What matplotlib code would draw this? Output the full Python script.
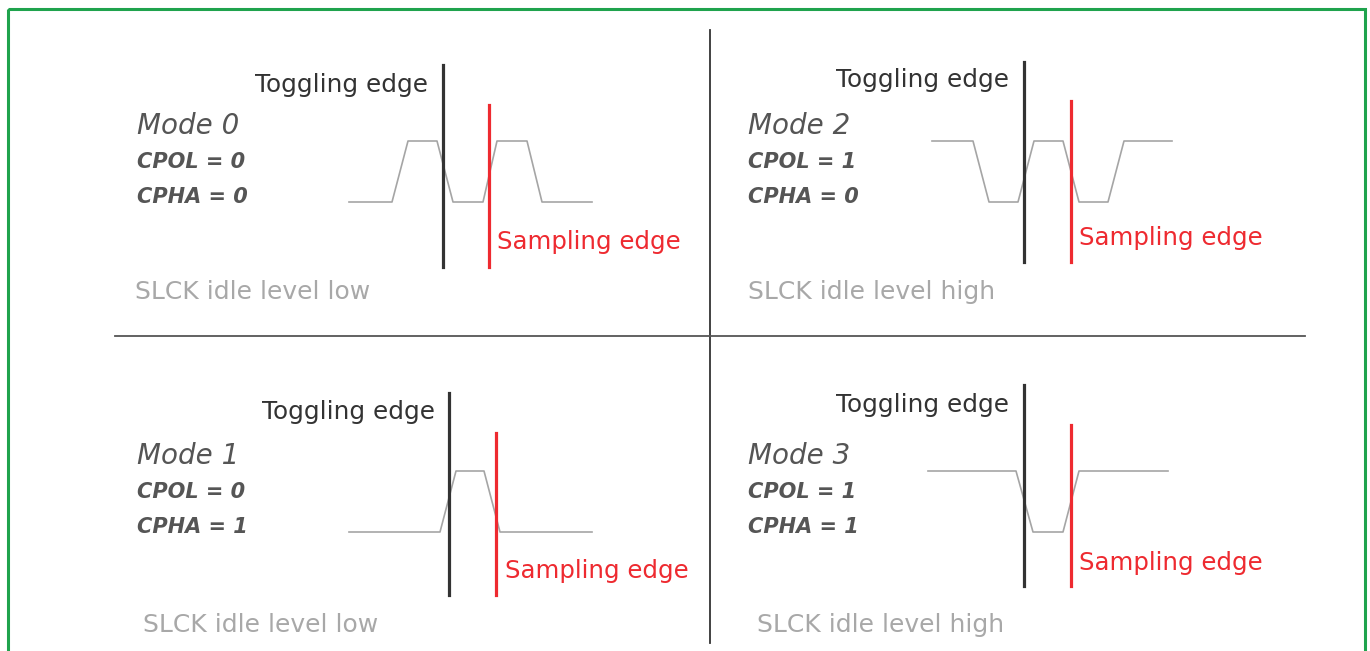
import matplotlib.pyplot as plt
from matplotlib.patches import Rectangle

# SPI clock modes: waveform breakpoints (x in px) and logic levels
mode0_t = [349, 392, 408, 437, 453, 483, 497, 527, 542, 592]
mode0_lv = [0, 0, 1, 1, 0, 0, 1, 1, 0, 0]
mode2_t = [932, 973, 989, 1018, 1034, 1063, 1079, 1108, 1124, 1172]
mode2_lv = [1, 1, 0, 0, 1, 1, 0, 0, 1, 1]
mode1_t = [349, 440, 456, 484, 500, 592]
mode1_lv = [0, 0, 1, 1, 0, 0]
mode3_t = [928, 1016, 1033, 1063, 1079, 1168]
mode3_lv = [1, 1, 0, 0, 1, 1]

modes = ['Mode 0', 'Mode 2', 'Mode 1', 'Mode 3']
cpol = [0, 1, 0, 1]
cpha = [0, 0, 1, 1]
idle = ['low', 'high', 'low', 'high']

TXT = '#333333'
GRAY = '#555555'
LIGHT = '#a8a8a8'
RED = '#ee2a30'
WAVE = '#a5a5a5'

fig = plt.figure(figsize=(13.7, 6.51), dpi=100)
ax = fig.add_axes([0, 0, 1, 1])
ax.set_xlim(0, 1370)
ax.set_ylim(651, 0)
ax.axis('off')

# green frame
ax.add_patch(Rectangle((8, 9), 1357, 660, fill=False, ec='#1fa34d', lw=2.2))

# dividers
ax.plot([710, 710], [30, 643], color='#333333', lw=1.3)
ax.plot([115, 1305], [336, 336], color='#555555', lw=1.3)

panels = [
    dict(t=mode0_t, lv=mode0_lv, hi=141, lo=202, tog=(443, 65, 267), smp=(489, 105, 267),
         tog_txt=(255, 85), lab=(137, 126), smp_txt=(497, 242), idle=(135, 292)),
    dict(t=mode2_t, lv=mode2_lv, hi=141, lo=202, tog=(1024, 62, 262), smp=(1071, 101, 262),
         tog_txt=(836, 80), lab=(748, 126), smp_txt=(1079, 238), idle=(748, 292)),
    dict(t=mode1_t, lv=mode1_lv, hi=471, lo=532, tog=(449, 393, 595), smp=(496, 433, 595),
         tog_txt=(262, 412), lab=(137, 456), smp_txt=(505, 571), idle=(143, 625)),
    dict(t=mode3_t, lv=mode3_lv, hi=471, lo=532, tog=(1024, 385, 586), smp=(1071, 425, 586),
         tog_txt=(836, 405), lab=(748, 456), smp_txt=(1079, 563), idle=(757, 625)),
]

for i, p in enumerate(panels):
    ys = [p['hi'] if v else p['lo'] for v in p['lv']]
    ax.plot(p['t'], ys, color=WAVE, lw=1.2, solid_joinstyle='round')
    x, y0, y1 = p['tog']
    ax.plot([x, x], [y0, y1], color=TXT, lw=2.3)
    x, y0, y1 = p['smp']
    ax.plot([x, x], [y0, y1], color=RED, lw=2.3)

    ax.text(*p['tog_txt'], 'Toggling edge', color=TXT, fontsize=17.8, va='center', ha='left')
    ax.text(*p['smp_txt'], 'Sampling edge', color=RED, fontsize=17.6, va='center', ha='left')
    lx, ly = p['lab']
    ax.text(lx, ly, modes[i], color=GRAY, fontsize=20, style='italic', va='center')
    ax.text(lx, ly + 36, 'CPOL = %d' % cpol[i], color=GRAY, fontsize=15,
            style='italic', weight='bold', va='center')
    ax.text(lx, ly + 71, 'CPHA = %d' % cpha[i], color=GRAY, fontsize=15,
            style='italic', weight='bold', va='center')
    ax.text(*p['idle'], 'SLCK idle level %s' % idle[i], color=LIGHT, fontsize=18,
            va='center', ha='left')

fig.savefig('out.png', dpi=100, facecolor='white')
